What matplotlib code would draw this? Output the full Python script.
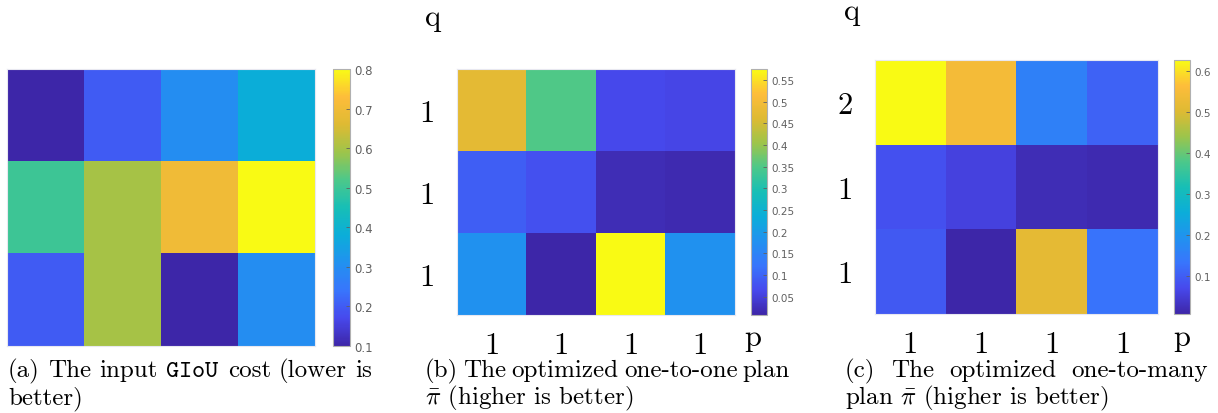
import numpy as np
import matplotlib.pyplot as plt
from matplotlib.colors import LinearSegmentedColormap

plt.rcParams['mathtext.fontset'] = 'cm'
plt.rcParams['axes.unicode_minus'] = False

# values
cost = [[0.10, 0.20, 0.30, 0.38],
        [0.50, 0.60, 0.70, 0.80],
        [0.20, 0.60, 0.10, 0.30]]
one2one = [[0.473, 0.350, 0.065, 0.060],
           [0.093, 0.076, 0.020, 0.015],
           [0.180, 0.010, 0.575, 0.180]]
one2many = [[0.626, 0.545, 0.156, 0.106],
            [0.081, 0.057, 0.020, 0.015],
            [0.094, 0.007, 0.515, 0.130]]
q_one = ['1', '1', '1']
q_many = ['2', '1', '1']
p_labels = ['1', '1', '1', '1']
ticks_a = [0.1, 0.2, 0.3, 0.4, 0.5, 0.6, 0.7, 0.8]
ticks_b = [0.05, 0.1, 0.15, 0.2, 0.25, 0.3, 0.35, 0.4, 0.45, 0.5, 0.55]
ticks_c = [0.1, 0.2, 0.3, 0.4, 0.5, 0.6]

# rough parula
parula = LinearSegmentedColormap.from_list('parula', [
    (0.00, (0.2422, 0.1504, 0.6603)),
    (0.10, (0.2790, 0.2860, 0.9290)),
    (0.20, (0.2200, 0.4600, 0.9900)),
    (0.30, (0.1300, 0.5700, 0.9400)),
    (0.40, (0.0450, 0.6800, 0.8500)),
    (0.50, (0.0900, 0.7470, 0.7130)),
    (0.60, (0.3000, 0.7850, 0.5400)),
    (0.70, (0.6200, 0.7700, 0.2900)),
    (0.80, (0.8700, 0.7300, 0.2000)),
    (0.90, (0.9950, 0.7400, 0.2300)),
    (1.00, (0.9769, 0.9839, 0.0805))])

W, H = 1218, 414
fig = plt.figure(figsize=(12.18, 4.14), dpi=100)


def box(x0, y0, x1, y1):
    return [x0 / W, 1 - y1 / H, (x1 - x0) / W, (y1 - y0) / H]


def heat(ax_box, cb_box, data, vmin, vmax, ticks, tsize):
    ax = fig.add_axes(box(*ax_box))
    im = ax.imshow(data, cmap=parula, vmin=vmin, vmax=vmax, aspect='auto',
                   interpolation='nearest')
    ax.set_xticks([])
    ax.set_yticks([])
    for s in ax.spines.values():
        s.set_color('#e8e8f0')
        s.set_linewidth(0.8)
    cax = fig.add_axes(box(*cb_box))
    cb = fig.colorbar(im, cax=cax, ticks=ticks)
    cb.ax.set_yticklabels([f'{t:g}' for t in ticks])
    cb.ax.tick_params(labelsize=tsize, colors='#606060', direction='in',
                      length=3, width=0.6, pad=3)
    cb.outline.set_edgecolor('#b0b0b0')
    cb.outline.set_linewidth(0.8)
    return ax


def pq_labels(ax, ylabs, ylab_x, q_y, p_x):
    ax.set_xticks(range(4))
    ax.set_xticklabels(p_labels, family='cmr10', fontsize=22)
    ax.set_yticks(range(3))
    ax.set_yticklabels(ylabs, family='cmr10', fontsize=22)
    ax.tick_params(length=0, pad=12)
    ax.tick_params(axis='y', pad=16)
    fig.text(ylab_x / W, 1 - q_y / H, 'q', family='cmr10', fontsize=22,
             ha='center', va='center')
    fig.text(p_x / W, 1 - 338 / H, 'p', family='cmr10', fontsize=22,
             ha='center', va='center')


ax_a = heat((7, 70, 315, 347), (333, 70, 350, 347), cost, 0.1, 0.8, ticks_a, 8.5)
ax_b = heat((457, 70, 735, 316), (751, 70, 767, 316), one2one, 0.008, 0.575, ticks_b, 7.5)
ax_c = heat((875, 61, 1158, 315), (1174, 61, 1190, 315), one2many, 0.007, 0.626, ticks_c, 7.5)

pq_labels(ax_b, q_one, 433, 18, 753)
pq_labels(ax_c, q_many, 852, 12, 1182)

cap_size = 18


def justified(words, x0, x1, y):
    ts = [fig.text(0, 1 - y / H, w, fontsize=cap_size, family='cmr10',
                   va='baseline') for w in words]
    fig.canvas.draw()
    r = fig.canvas.get_renderer()
    ws = [t.get_window_extent(r).width for t in ts]
    gap = (x1 - x0 - sum(ws)) / (len(words) - 1)
    x = x0
    for t, w in zip(ts, ws):
        t.set_x(x / W)
        x += w + gap


def line(txt, x0, y):
    fig.text(x0 / W, 1 - y / H, txt, fontsize=cap_size, family='cmr10',
             va='baseline')


justified(['(a)', 'The', 'input', r'$\mathtt{GIoU}$', 'cost', '(lower', 'is'], 8, 372, 377)
line('better)', 8, 404)
justified(['(b)', 'The', 'optimized', 'one-to-one', 'plan'], 425, 790, 377)
line(r'$\bar{\pi}$ (higher is better)', 425, 404)
justified(['(c)', 'The', 'optimized', 'one-to-many'], 845, 1208, 377)
line(r'plan $\bar{\pi}$ (higher is better)', 845, 404)

fig.savefig('out.png', dpi=100)
